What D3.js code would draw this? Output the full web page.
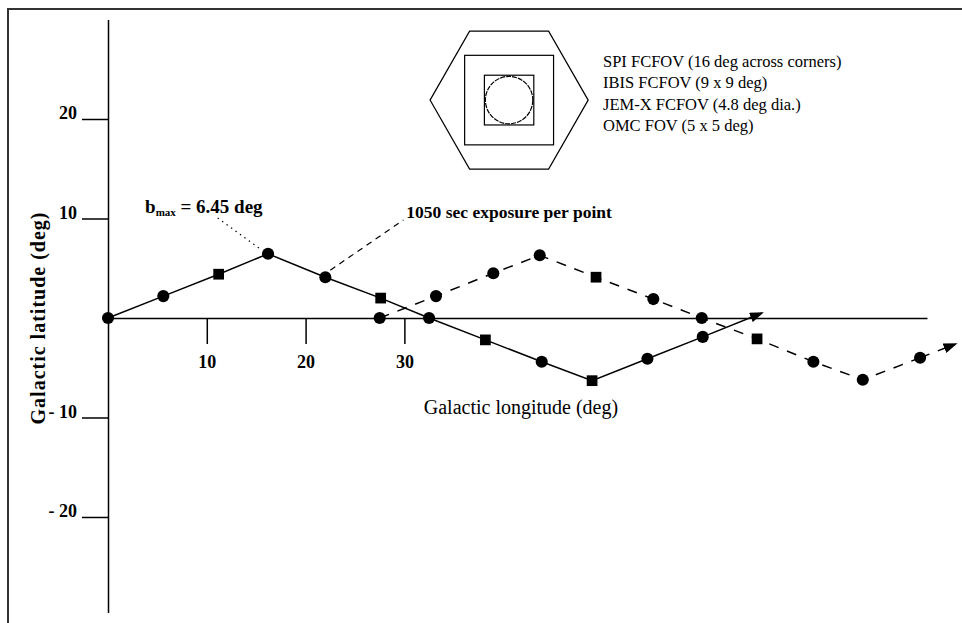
<!DOCTYPE html>
<html>
<head>
<meta charset="utf-8">
<script src="https://cdn.jsdelivr.net/npm/d3@7/dist/d3.min.js"></script>
<style>
  body { margin: 0; background: #fff; }
  svg { display: block; font-family: "Liberation Serif", "DejaVu Serif", serif; }
</style>
</head>
<body>
<svg width="962" height="623"></svg>
<script>
// Scan 1 (solid line): galactic longitude / latitude of each pointing
const lon1 = [0, 5.6, 11.2, 16.2, 22.0, 27.6, 32.5, 38.2, 43.9, 49.0, 54.6, 60.2];
const lat1 = [0, 2.2, 4.4, 6.45, 4.1, 2.0, 0, -2.2, -4.4, -6.3, -4.1, -1.9];
const mark1 = ["c", "c", "s", "c", "c", "s", "c", "s", "c", "s", "c", "c"];
const end1 = [66.2, 0.5];

// Scan 2 (dashed line)
const lon2 = [27.5, 33.2, 39.0, 43.7, 49.4, 55.2, 60.1, 65.7, 71.4, 76.4, 82.2];
const lat2 = [0, 2.2, 4.5, 6.3, 4.1, 1.9, 0, -2.1, -4.4, -6.2, -4.0];
const mark2 = ["c", "c", "c", "c", "s", "c", "c", "s", "c", "c", "c"];
const end2 = [85.8, -2.6];

// Axis ticks
const lonTicks = [10, 20, 30];
const latTicks = [20, 10, -10, -20];

// Field of view icon (deg), centred at a sky position
const fovCenter = [40.6, 21.9];
const spiCorners = 16;
const ibisSide = 9;
const omcSide = 5;
const jemxDia = 4.8;
const legendLabels = [
  "SPI FCFOV (16 deg across corners)",
  "IBIS FCFOV (9 x 9 deg)",
  "JEM-X FCFOV (4.8 deg dia.)",
  "OMC FOV (5 x 5 deg)"
];

// Annotations
const bmax = 6.45;

const svg = d3.select("svg");

const x = d3.scaleLinear().domain([0, 82.9]).range([108, 927]);
const y = d3.scaleLinear().domain([-29.6, 30]).range([612.5, 19.5]);
const kx = x(1) - x(0);
const ky = y(0) - y(1);

// Outer frame (top + left only)
svg.append("path")
  .attr("d", "M8,623V9H962")
  .attr("fill", "none")
  .attr("stroke", "#333")
  .attr("stroke-width", 2);

// Arrow head
svg.append("defs").append("marker")
  .attr("id", "arrow")
  .attr("viewBox", "0 -5 14 10")
  .attr("refX", 12)
  .attr("refY", 0)
  .attr("markerWidth", 14)
  .attr("markerHeight", 10)
  .attr("markerUnits", "userSpaceOnUse")
  .attr("orient", "auto")
  .append("path")
  .attr("d", "M0,-5L14,0L0,5Z")
  .attr("fill", "#000");

// Y axis
const yAxis = svg.append("g")
  .attr("transform", `translate(${x(0)},0)`)
  .call(d3.axisLeft(y)
    .tickValues(latTicks)
    .tickSize(26)
    .tickSizeOuter(0)
    .tickPadding(5)
    .tickFormat(d => d < 0 ? "- " + (-d) : d));

// X axis
const xAxis = svg.append("g")
  .attr("transform", `translate(0,${y(0)})`)
  .call(d3.axisBottom(x)
    .tickValues(lonTicks)
    .tickSize(26)
    .tickSizeOuter(0)
    .tickPadding(11));

[yAxis, xAxis].forEach(ax => {
  ax.selectAll("path, line").attr("stroke", "#000").attr("stroke-width", 1.5);
  ax.selectAll("text")
    .attr("fill", "#000")
    .style("font-family", "Liberation Serif, serif")
    .style("font-size", "18px")
    .style("font-weight", "bold");
});
yAxis.selectAll("text").attr("dy", "0");

// Axis labels
svg.append("text")
  .attr("transform", `translate(45,${y(0)}) rotate(-90)`)
  .attr("text-anchor", "middle")
  .style("font-size", "20px")
  .style("font-weight", "bold")
  .style("letter-spacing", "1px")
  .text("Galactic latitude (deg)");

svg.append("text")
  .attr("x", x(41.8))
  .attr("y", 414)
  .attr("text-anchor", "middle")
  .style("font-size", "20px")
  .text("Galactic longitude (deg)");

// Scan lines
function drawScan(lon, lat, marks, end, dash) {
  const pts = lon.map((l, i) => ({ l, b: lat[i], m: marks[i] }));
  const line = d3.line().x(d => x(d.l)).y(d => y(d.b));

  svg.append("path")
    .datum(pts)
    .attr("fill", "none")
    .attr("stroke", "#000")
    .attr("stroke-width", 1.5)
    .attr("stroke-dasharray", dash)
    .attr("d", line);

  const last = pts[pts.length - 1];
  svg.append("path")
    .datum([last, { l: end[0], b: end[1] }])
    .attr("fill", "none")
    .attr("stroke", "#000")
    .attr("stroke-width", 1.5)
    .attr("stroke-dasharray", dash)
    .attr("marker-end", "url(#arrow)")
    .attr("d", line);

  svg.append("g").selectAll("path")
    .data(pts)
    .join("path")
    .attr("transform", d => `translate(${x(d.l)},${y(d.b)})`)
    .attr("d", d => d3.symbol(d.m === "s" ? d3.symbolSquare : d3.symbolCircle, 115)())
    .attr("fill", "#000");
}

drawScan(lon1, lat1, mark1, end1, null);
drawScan(lon2, lat2, mark2, end2, "10,9");

// b_max annotation
const bText = svg.append("text")
  .attr("x", x(3.75))
  .attr("y", y(10.55))
  .style("font-size", "19px")
  .style("font-weight", "bold");
bText.append("tspan").text("b");
bText.append("tspan").attr("dy", 3).style("font-size", "11px").text("max");
bText.append("tspan").attr("dy", -3).text(` = ${bmax} deg`);

svg.append("line")
  .attr("x1", x(11.1)).attr("y1", y(10.05))
  .attr("x2", x(15.6)).attr("y2", y(6.8))
  .attr("stroke", "#000")
  .attr("stroke-width", 1.2)
  .attr("stroke-dasharray", "1.5,4");

// exposure annotation
svg.append("line")
  .attr("x1", x(22.5)).attr("y1", y(4.8))
  .attr("x2", x(29.9)).attr("y2", y(9.85))
  .attr("stroke", "#000")
  .attr("stroke-width", 1.2)
  .attr("stroke-dasharray", "6,5");

svg.append("text")
  .attr("x", x(30.2))
  .attr("y", y(10.0))
  .style("font-size", "17.5px")
  .style("font-weight", "bold")
  .text("1050 sec exposure per point");

// Field of view icon
const cx = x(fovCenter[0]);
const cy = y(fovCenter[1]);
const fov = svg.append("g")
  .attr("transform", `translate(${cx},${cy})`)
  .attr("fill", "none")
  .attr("stroke", "#000")
  .attr("stroke-width", 1.2);

const r = spiCorners / 2;
const hex = d3.range(6).map(i => {
  const a = i * Math.PI / 3;
  return [r * Math.cos(a) * kx, r * Math.sin(a) * ky];
});
fov.append("path").attr("d", d3.line()(hex) + "Z");

fov.append("rect")
  .attr("x", -ibisSide / 2 * kx).attr("y", -ibisSide / 2 * ky)
  .attr("width", ibisSide * kx).attr("height", ibisSide * ky);

fov.append("rect")
  .attr("x", -omcSide / 2 * kx).attr("y", -omcSide / 2 * ky)
  .attr("width", omcSide * kx).attr("height", omcSide * ky);

fov.append("circle")
  .attr("r", jemxDia / 2 * kx)
  .attr("stroke-dasharray", "5,1");

// Legend text
svg.append("g").selectAll("text")
  .data(legendLabels)
  .join("text")
  .attr("x", 603)
  .attr("y", (d, i) => 67 + i * 21.3)
  .style("font-size", "16.5px")
  .text(d => d);
</script>
</body>
</html>
